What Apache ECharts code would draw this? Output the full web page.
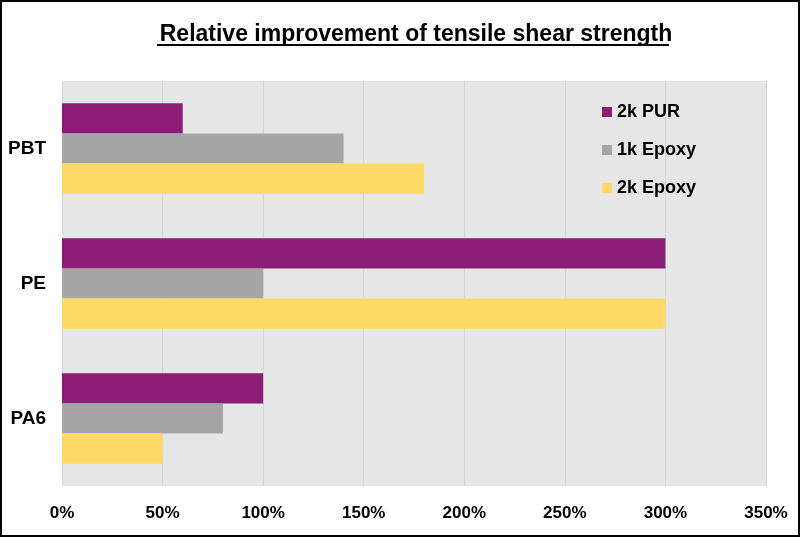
<!DOCTYPE html>
<html><head><meta charset="utf-8">
<script src="https://cdn.jsdelivr.net/npm/echarts@6/dist/echarts.min.js"></script>
<style>html,body{margin:0;padding:0;background:#fff}#c{width:800px;height:537px;box-sizing:border-box;border:2px solid #000}</style>
</head><body><div id="c"></div>
<script>
const categories = ['PBT', 'PE', 'PA6'];
const pur2k = [60, 300, 100];
const epoxy1k = [140, 100, 80];
const epoxy2k = [180, 300, 50];
const xTicks = [0, 50, 100, 150, 200, 250, 300, 350];

const chart = echarts.init(document.getElementById('c'));
const font = 'Liberation Sans, Arial, sans-serif';
chart.setOption({
  backgroundColor: '#fff',
  animation: false,
  title: {
    text: 'Relative improvement of tensile shear strength',
    left: 409, top: 16, textAlign: 'center',
    textStyle: { fontFamily: font, fontWeight: 'bold', fontSize: 23, color: '#000' }
  },
  graphic: [{ type: 'rect', shape: { x: 155, y: 42, width: 512, height: 2 }, style: { fill: '#000' } }],
  legend: {
    orient: 'vertical', left: 595, top: 96, itemGap: 20,
    itemWidth: 10, itemHeight: 10, icon: 'rect',
    textStyle: { fontFamily: font, fontWeight: 'bold', fontSize: 18, color: '#000' },
    data: ['2k PUR', '1k Epoxy', '2k Epoxy']
  },
  grid: { left: 60, right: 32, top: 79, bottom: 49, containLabel: false, show: true, backgroundColor: '#e6e6e6', borderWidth: 0 },
  xAxis: {
    type: 'value', min: 0, max: 350, interval: 50,
    axisLine: { show: false }, axisTick: { show: false },
    splitLine: { show: true, lineStyle: { color: '#d6d6d6', width: 1 } },
    axisLabel: { formatter: v => xTicks.includes(v) ? v + '%' : '', margin: 19, fontFamily: font, fontWeight: 'bold', fontSize: 17, color: '#000' }
  },
  yAxis: {
    type: 'category', data: categories, inverse: true,
    axisLine: { show: false }, axisTick: { show: false },
    axisLabel: { margin: 16, fontFamily: font, fontWeight: 'bold', fontSize: 19, color: '#000' }
  },
  series: [
    { name: '2k PUR', type: 'bar', data: pur2k, itemStyle: { color: '#8B1C77' }, barGap: '0%', barCategoryGap: '33%' },
    { name: '1k Epoxy', type: 'bar', data: epoxy1k, itemStyle: { color: '#A5A5A5' }, barGap: '0%', barCategoryGap: '33%' },
    { name: '2k Epoxy', type: 'bar', data: epoxy2k, itemStyle: { color: '#FFD966' }, barGap: '0%', barCategoryGap: '33%' }
  ]
});
</script></body></html>
